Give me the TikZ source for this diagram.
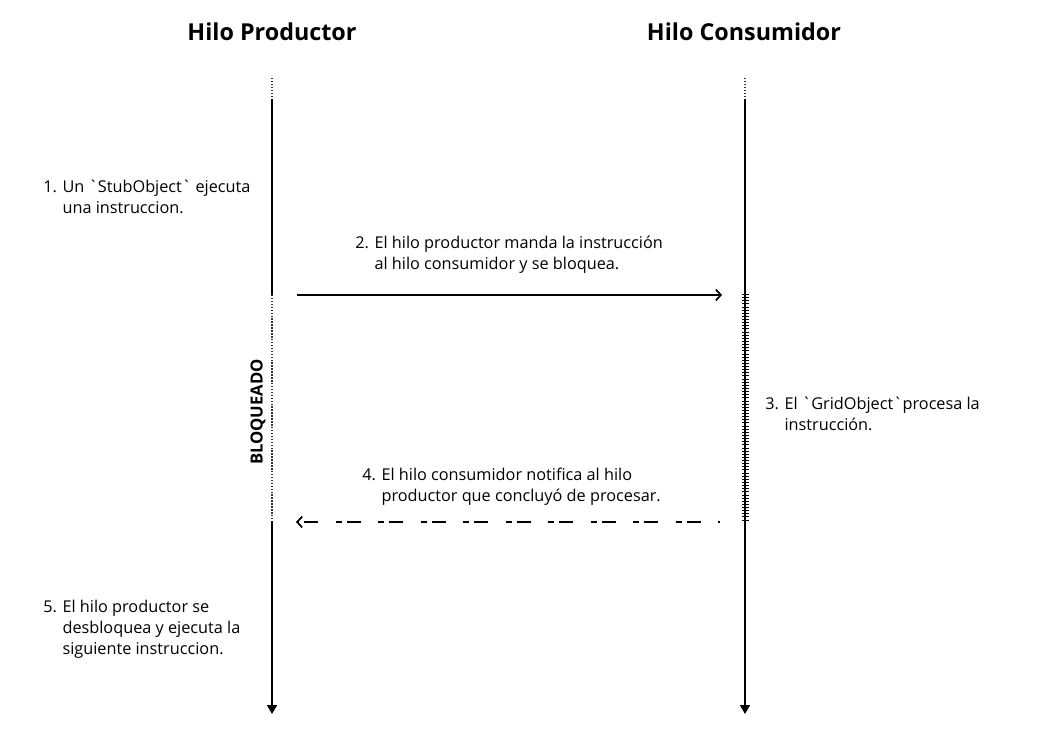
\documentclass[tikz,border=0pt]{standalone}
\usepackage{fontspec}
\setmainfont{Open Sans}[Ligatures=TeXOff]
\usetikzlibrary{arrows.meta}
\tikzset{
  lifeline/.style={line width=1.2pt, black},
  dotline/.style={line width=1.2pt, black!80, dash pattern=on 1.1pt off 1.1pt},
  hatch/.style={line width=5.25pt, black, dash pattern=on 0.75pt off 1.6pt},
  msg/.style={line width=1.4pt, black, -{Straight Barb[length=3.75pt,width=8.25pt,line width=1.3pt]}},
  retmsg/.style={msg, dash pattern=on 10.5pt off 3.75pt on 4.5pt off 13.125pt, dash phase=17.25pt},
  title/.style={font=\fontsize{17.5}{21}\selectfont\bfseries, anchor=base},
  note/.style={font=\fontsize{12.2}{15.75}\selectfont, align=left, anchor=base west, inner sep=0pt},
}
\newcommand{\bq}{\char96{}}
\begin{document}
\begin{tikzpicture}[x=0.75pt,y=-0.75pt]
\useasboundingbox (0,0) rectangle (1042,733);
% titles
\node[title] (tp) at (272,40) {Hilo Productor};
\node[title] (tc) at (744,40) {Hilo Consumidor};
% producer lifeline
\coordinate (p0) at (272,78);
\coordinate (p1) at (272,99);
\coordinate (p2) at (272,295);
\coordinate (p3) at (272,521);
\coordinate (p4) at (272,714);
\draw[dotline] (p0) -- (p1);
\draw[lifeline] (p1) -- (p2);
\draw[dotline] (p2) -- (p3);
\draw[lifeline, -{Triangle[length=6.75pt,width=7.5pt]}] (p3) -- (p4);
% consumer lifeline
\coordinate (c0) at (745,78);
\coordinate (c1) at (745,99);
\coordinate (c2) at (745,294);
\coordinate (c3) at (745,522);
\coordinate (c4) at (745,714);
\draw[dotline] (c0) -- (c1);
\draw[lifeline] (c1) -- (c2);
\draw[lifeline] (c2) -- (c3);
\draw[hatch] (c2) -- (c3);
\draw[lifeline, -{Triangle[length=6.75pt,width=7.5pt]}] (c3) -- (c4);
% messages
\coordinate (m1s) at (297,295);
\coordinate (m1e) at (722,295);
\draw[msg] (m1s) -- (m1e);
\coordinate (m2s) at (720,522);
\coordinate (m2e) at (296,522);
\draw[retmsg] (m2s) -- (m2e);
% blocked label
\node[font=\fontsize{12.5}{14}\selectfont\bfseries, rotate=90] (bl) at (258,412) {BLOQUEADO};
% notes
\node[note] (n1) at (43,213) {1. Un \bq StubObject\bq{} ejecuta\\\phantom{1. }una instruccion.};
\node[note] (n2) at (355,269) {2. El hilo productor manda la instrucción\\\phantom{2. }al hilo consumidor y se bloquea.};
\node[note] (n3) at (765,430) {3. El \bq GridObject\bq procesa la\\\phantom{3. }instrucción.};
\node[note] (n4) at (362,501) {4. El hilo consumidor notifica al hilo\\\phantom{4. }productor que concluyó de procesar.};
\node[note] (n5) at (43,654) {5. El hilo productor se\\\phantom{5. }desbloquea y ejecuta la\\\phantom{5. }siguiente instruccion.};
\end{tikzpicture}
\end{document}
